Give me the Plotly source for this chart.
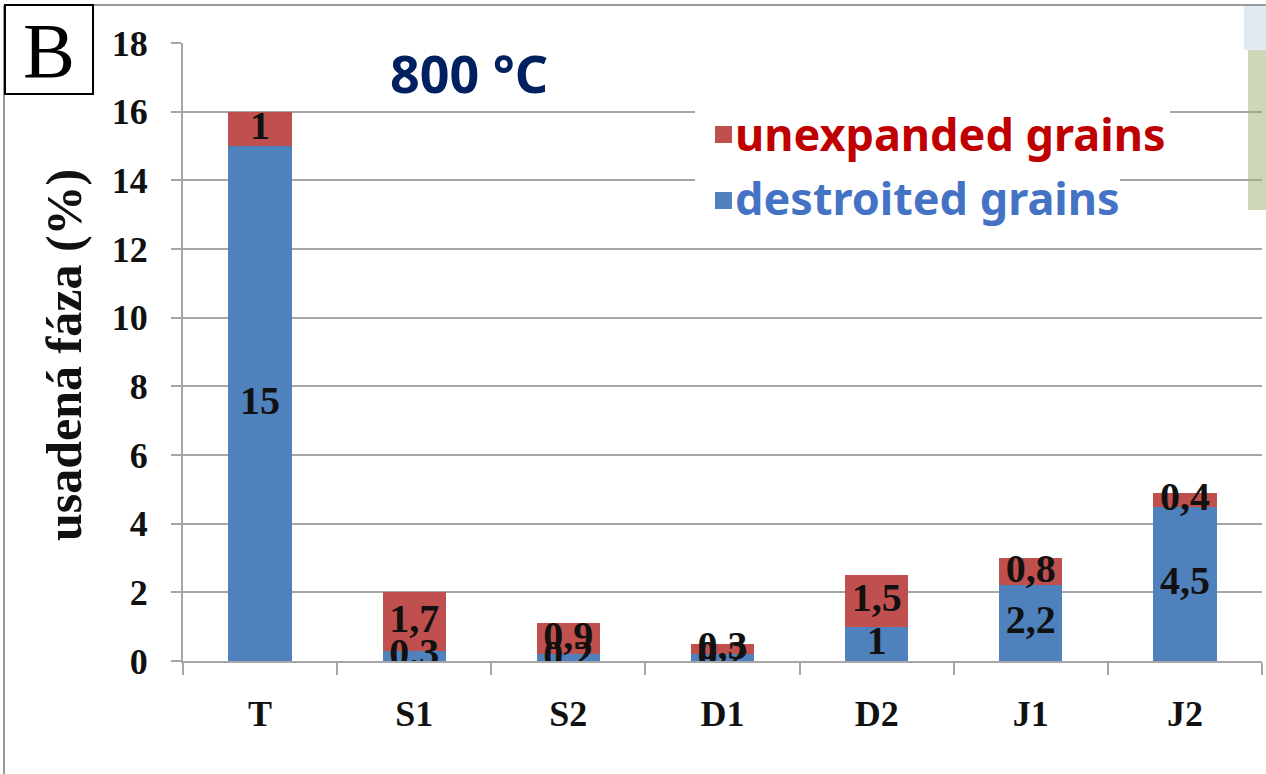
import plotly.graph_objects as go

categories = ["T", "S1", "S2", "D1", "D2", "J1", "J2"]
destroited = [15, 0.3, 0.2, 0.2, 1, 2.2, 4.5]
unexpanded = [1, 1.7, 0.9, 0.3, 1.5, 0.8, 0.4]
y_ticks = [0, 2, 4, 6, 8, 10, 12, 14, 16, 18]

BLUE = "#4f81bd"
RED = "#c0504d"
GRID = "#a6a6a6"

W, H = 1266, 774
L, R, T, B = 183, 4, 43, 113
PW, PH = W - L - R, H - T - B


def px(x):
    return (x - L) / PW


def py(y):
    return (H - B - y) / PH


def fmt(v):
    return f"{v:g}".replace(".", ",")


fig = go.Figure()
fig.add_trace(go.Bar(x=categories, y=destroited, marker=dict(color=BLUE, line=dict(width=0)),
                     width=0.41, name="destroited grains", hoverinfo="skip"))
fig.add_trace(go.Bar(x=categories, y=unexpanded, marker=dict(color=RED, line=dict(width=0)),
                     width=0.41, name="unexpanded grains", hoverinfo="skip"))

lab_font = dict(family="Liberation Serif", size=40, color="#111111", weight="bold")
fig.add_trace(go.Scatter(x=categories, y=[d / 2 for d in destroited], mode="text",
                         text=[fmt(d) for d in destroited], textfont=lab_font,
                         textposition="middle center", showlegend=False, hoverinfo="skip"))
fig.add_trace(go.Scatter(x=categories, y=[d + u / 2 for d, u in zip(destroited, unexpanded)],
                         mode="text", text=[fmt(u) for u in unexpanded], textfont=lab_font,
                         textposition="middle center", showlegend=False, hoverinfo="skip"))

tick_font = dict(family="Liberation Serif", size=36, color="#111111", weight="bold")
fig.update_layout(
    width=W, height=H, barmode="stack", bargap=0.59,
    margin=dict(l=L, r=R, t=T, b=B, autoexpand=False),
    paper_bgcolor="white", plot_bgcolor="white", showlegend=False,
    xaxis=dict(range=[-0.5, 6.5], showgrid=False, showline=True, linecolor=GRID, linewidth=2,
               ticks="outside", tickson="boundaries", ticklen=12, tickwidth=2, tickcolor=GRID,
               tickfont=tick_font, ticklabelstandoff=20, fixedrange=True),
    yaxis=dict(range=[0, 18], tickvals=y_ticks, showgrid=True, gridcolor=GRID, gridwidth=2,
               showline=True, linecolor=GRID, linewidth=2, ticks="outside", ticklen=10,
               tickwidth=2, tickcolor=GRID, tickfont=tick_font, ticklabelstandoff=16,
               zeroline=False, fixedrange=True),
)

shapes = [
    # outer frame lines
    dict(type="line", xref="paper", yref="paper", x0=px(4), x1=px(W + 10), y0=py(5), y1=py(5),
         line=dict(color="#999999", width=2)),
    dict(type="line", xref="paper", yref="paper", x0=px(4), x1=px(4), y0=py(5), y1=py(H + 10),
         line=dict(color="#999999", width=2)),
    # B box
    dict(type="rect", xref="paper", yref="paper", x0=px(5), x1=px(93), y0=py(5), y1=py(94),
         line=dict(color="black", width=2), fillcolor="white"),
    # legend backgrounds
    dict(type="rect", xref="paper", yref="paper", x0=px(695), x1=px(1170), y0=py(100), y1=py(162),
         line=dict(width=0), fillcolor="white", layer="above"),
    dict(type="rect", xref="paper", yref="paper", x0=px(695), x1=px(1120), y0=py(166), y1=py(230),
         line=dict(width=0), fillcolor="white", layer="above"),
    # legend squares
    dict(type="rect", xref="paper", yref="paper", x0=px(715), x1=px(732), y0=py(126), y1=py(143),
         line=dict(width=0), fillcolor=RED, layer="above"),
    dict(type="rect", xref="paper", yref="paper", x0=px(715), x1=px(732), y0=py(192), y1=py(209),
         line=dict(width=0), fillcolor=BLUE, layer="above"),
    # faint image artifact on right edge
    dict(type="rect", xref="paper", yref="paper", x0=px(1244), x1=px(W + 10), y0=py(6), y1=py(50),
         line=dict(width=0), fillcolor="rgba(205,220,230,0.6)", layer="above"),
    dict(type="rect", xref="paper", yref="paper", x0=px(1248), x1=px(W + 10), y0=py(50), y1=py(210),
         line=dict(width=0), fillcolor="rgba(160,178,110,0.5)", layer="above"),
]
fig.update_layout(shapes=shapes)

annotations = [
    dict(text="B", xref="paper", yref="paper", x=px(49), y=py(50), xanchor="center", yanchor="middle",
         showarrow=False, font=dict(family="Liberation Serif", size=78, color="black")),
    dict(text="800 °C", xref="paper", yref="paper", x=px(469), y=py(72), xanchor="center",
         yanchor="middle", showarrow=False,
         font=dict(family="Noto Sans", size=52, color="#002060", weight="bold")),
    dict(text="unexpanded grains", xref="paper", yref="paper", x=px(733), y=py(133), xanchor="left",
         yanchor="middle", showarrow=False,
         font=dict(family="Noto Sans", size=45, color="#c00000", weight="bold")),
    dict(text="destroited grains", xref="paper", yref="paper", x=px(733), y=py(198), xanchor="left",
         yanchor="middle", showarrow=False,
         font=dict(family="Noto Sans", size=45, color="#4472c4", weight="bold")),
    dict(text="usadená fáza (%)", xref="paper", yref="paper", x=px(64), y=py(355), xanchor="center",
         yanchor="middle", textangle=-90, showarrow=False,
         font=dict(family="Liberation Serif", size=50, color="#111111", weight="bold")),
]
fig.update_layout(annotations=annotations)

fig.write_html("out.html", config={"displayModeBar": False, "staticPlot": True},
               post_script="document.body.style.margin='0';document.body.style.overflow='hidden';")
